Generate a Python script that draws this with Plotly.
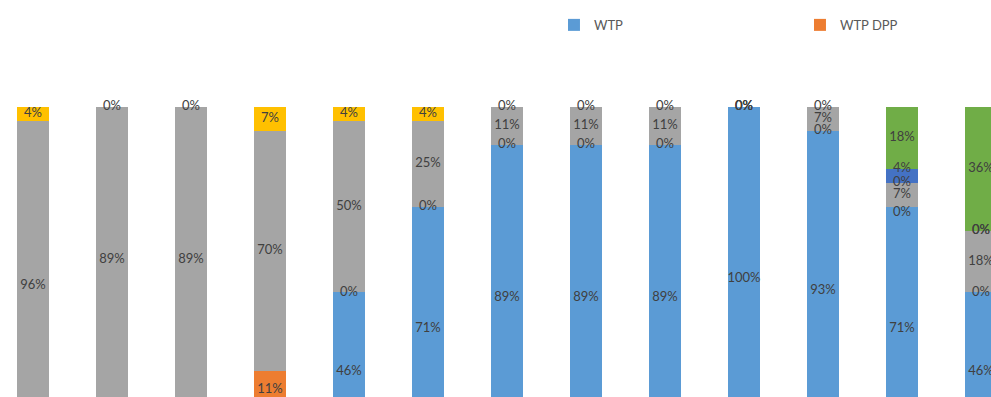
import plotly.graph_objects as go

categories = [str(i) for i in range(1, 14)]

# stacked from bottom to top; None = no value (no bar, no label)
wtp       = [0, 0, 0, 12, 46, 71, 89, 89, 89, 100, 93, 71, 46]
wtp_dpp   = [0, 11, 11, 11, 0, 0, 0, 0, 0, 0, 0, 0, 0]
series3   = [96, 89, 89, 70, 50, 25, 11, 11, 11, 0, 7, 7, 18]
series4   = [4, 0, 0, 7, 4, 4, 0, 0, 0, 0, 0, 0, 0]
series5   = [None] * 11 + [4, 0]
series6   = [None] * 11 + [18, 36]

series = [
    ("WTP", wtp, "#5B9BD5", True),
    ("WTP DPP", wtp_dpp, "#ED7D31", True),
    ("Series 3", series3, "#A5A5A5", False),
    ("Series 4", series4, "#FFC000", False),
    ("Series 5", series5, "#4472C4", False),
    ("Series 6", series6, "#70AD47", False),
]

# label placement tweaks (as in the source chart, where labels were nudged)
label_pos = {("Series 5", 11): "top center", ("WTP DPP", 11): "bottom center"}

xpos = list(range(len(categories)))
fig = go.Figure()
base = [0.0] * len(categories)
lab_x, lab_y, lab_t, lab_p = [], [], [], []
for name, vals, color, show in series:
    fig.add_trace(go.Bar(
        x=xpos, y=vals, name=name, marker=dict(color=color, line=dict(width=0)),
        width=0.405, showlegend=show, hoverinfo="skip",
    ))
    for i, v in enumerate(vals):
        if v is None:
            continue
        lab_x.append(i)
        lab_y.append(base[i] + v / 2)
        lab_t.append(f"{v}%")
        lab_p.append(label_pos.get((name, i), "middle center"))
        base[i] += v

fig.add_trace(go.Scatter(
    x=lab_x, y=lab_y, text=lab_t, mode="text", textposition=lab_p,
    textfont=dict(family="Lato", size=13, color="#404040"),
    showlegend=False, hoverinfo="skip", cliponaxis=False,
))

fig.update_layout(
    width=991, height=397,
    margin=dict(l=0, r=0, t=107, b=0, autoexpand=False),
    barmode="stack",
    plot_bgcolor="white", paper_bgcolor="white",
    xaxis=dict(range=[-0.418, 12.127], showticklabels=False, showgrid=False,
               zeroline=False, showline=False, ticks=""),
    yaxis=dict(range=[15.5, 100], showticklabels=False, showgrid=False,
               zeroline=False, showline=False, ticks=""),
    legend=dict(orientation="h", x=0.559, y=1.283, xanchor="left", yanchor="middle",
                entrywidth=201, entrywidthmode="pixels",
                font=dict(family="Lato", size=13, color="#595959"),
                itemsizing="constant", traceorder="normal"),
)

fig.write_html("out.html")
